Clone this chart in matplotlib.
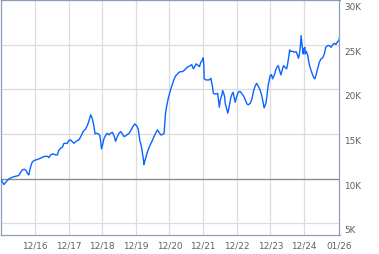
import matplotlib
matplotlib.use("Agg")
import matplotlib.pyplot as plt
import matplotlib.transforms as mtransforms
from matplotlib.ticker import FixedLocator, FuncFormatter

# Growth of 10K, decimal-year positions and values
years = [
    2015.98, 2016.08, 2016.18, 2016.23, 2016.33, 2016.43, 2016.52, 2016.58, 2016.63, 2016.69,
    2016.74, 2016.79, 2016.82, 2016.87, 2016.92, 2016.97, 2017.07, 2017.17, 2017.27, 2017.37,
    2017.42, 2017.47, 2017.54, 2017.62, 2017.67, 2017.71, 2017.77, 2017.82, 2017.86, 2017.91,
    2017.96, 2018.01, 2018.06, 2018.16, 2018.26, 2018.31, 2018.38, 2018.44, 2018.51, 2018.56,
    2018.61, 2018.66, 2018.71, 2018.76, 2018.79, 2018.84, 2018.89, 2018.93, 2018.96, 2018.98,
    2019.02, 2019.05, 2019.10, 2019.15, 2019.20, 2019.25, 2019.30, 2019.35, 2019.40, 2019.45,
    2019.50, 2019.55, 2019.60, 2019.65, 2019.70, 2019.75, 2019.80, 2019.85, 2019.90, 2019.97,
    2020.02, 2020.07, 2020.09, 2020.12, 2020.17, 2020.20, 2020.23, 2020.24, 2020.27, 2020.30,
    2020.34, 2020.39, 2020.44, 2020.49, 2020.54, 2020.59, 2020.64, 2020.69, 2020.74, 2020.79,
    2020.84, 2020.86, 2020.88, 2020.91, 2020.94, 2020.97, 2021.01, 2021.04, 2021.09, 2021.14,
    2021.19, 2021.24, 2021.28, 2021.34, 2021.39, 2021.43, 2021.48, 2021.53, 2021.58, 2021.63,
    2021.66, 2021.71, 2021.75, 2021.79, 2021.85, 2021.89, 2021.93, 2021.97, 2022.00, 2022.02,
    2022.03, 2022.08, 2022.18, 2022.23, 2022.25, 2022.28, 2022.30, 2022.33, 2022.41, 2022.43,
    2022.45, 2022.48, 2022.51, 2022.55, 2022.58, 2022.61, 2022.64, 2022.65, 2022.67, 2022.70,
    2022.73, 2022.76, 2022.79, 2022.82, 2022.86, 2022.89, 2022.92, 2022.95, 2022.99, 2023.04,
    2023.09, 2023.14, 2023.19, 2023.24, 2023.30, 2023.34, 2023.40, 2023.45, 2023.50, 2023.55,
    2023.59, 2023.64, 2023.69, 2023.74, 2023.78, 2023.81, 2023.86, 2023.89, 2023.93, 2023.96,
    2023.99, 2024.03, 2024.06, 2024.11, 2024.15, 2024.19, 2024.23, 2024.27, 2024.31, 2024.35,
    2024.39, 2024.43, 2024.48, 2024.51, 2024.54, 2024.57, 2024.61, 2024.66, 2024.71, 2024.76,
    2024.79, 2024.83, 2024.86, 2024.89, 2024.91, 2024.94, 2024.97, 2024.99, 2025.02, 2025.03,
    2025.06, 2025.11, 2025.13, 2025.16, 2025.20, 2025.24, 2025.28, 2025.32, 2025.36, 2025.40,
    2025.45, 2025.50, 2025.55, 2025.60, 2025.64, 2025.70, 2025.75, 2025.80, 2025.85, 2025.90,
    2025.94, 2025.98, 2026.03, 2026.06,
]
values = [
    10000, 9330, 9780, 9970, 10150, 10260, 10340, 10710, 10970, 11040,
    10900, 10530, 10410, 11260, 11820, 12010, 12130, 12270, 12460, 12500,
    12350, 12650, 12760, 12650, 12650, 13130, 13410, 13500, 13920, 13950,
    13920, 14250, 14330, 13950, 14250, 14330, 14810, 15290, 15560, 15930,
    16490, 17130, 16680, 15740, 15000, 15070, 15000, 14810, 14060, 13320,
    13880, 14440, 14810, 15070, 14890, 15070, 15180, 14810, 14170, 14700,
    15070, 15260, 15000, 14700, 14780, 14920, 15070, 15370, 15740, 16120,
    15930, 15560, 15000, 14250, 13500, 12760, 12010, 11570, 12010, 12380,
    12940, 13440, 13880, 14250, 14700, 15070, 15450, 15180, 14890, 14920,
    15070, 16120, 17240, 17980, 18540, 19100, 19660, 20040, 20600, 21160,
    21530, 21720, 21900, 21970, 21970, 22090, 22280, 22460, 22570, 22650,
    22760, 22280, 22530, 22840, 22650, 22530, 23010, 23200, 23510, 22650,
    21160, 21040, 21040, 21220, 20780, 20220, 19550, 19480, 19480, 19550,
    18920, 17980, 18810, 19290, 19850, 19550, 19100, 18540, 18170, 17800,
    17310, 17800, 18390, 19030, 19480, 19660, 19100, 18540, 19100, 19660,
    19770, 19550, 19290, 18920, 18360, 18250, 18430, 18920, 19850, 20410,
    20660, 20300, 19930, 19290, 18540, 17910, 18390, 19100, 20410, 20970,
    21530, 21640, 21160, 21530, 22090, 22460, 22650, 22090, 21600, 22160,
    22650, 22460, 22280, 22840, 23570, 24400, 24210, 24250, 24130, 24210,
    23950, 23460, 23950, 24880, 26000, 24880, 23950, 24510, 24690, 23950,
    24250, 23760, 23200, 22650, 22160, 21720, 21340, 21160, 21720, 22280,
    23010, 23390, 23510, 23950, 24690, 24880, 24880, 24690, 25000, 25140,
    25000, 25250, 25440, 25890,
]

x_tick_pos = [2017.0, 2018.0, 2019.0, 2020.0, 2021.0, 2022.0, 2023.0, 2024.0, 2025.0, 2026.05]
x_tick_labels = ["12/16", "12/17", "12/18", "12/19", "12/20", "12/21", "12/22", "12/23", "12/24", "01/26"]
y_ticks = [5000, 10000, 15000, 20000, 25000, 30000]
baseline = 10000

W, H = 379, 255
fig = plt.figure(figsize=(W / 100, H / 100), dpi=100)
ax = fig.add_axes([0.5 / W, (H - 235.5) / H, 339 / W, 235 / H])

border = "#8c9db6"
grid_c = "#dcdcdc"
text_c = "#606060"

ax.plot(years, values, color="#0a64ff", lw=1.0, antialiased=True, zorder=3)
ax.axhline(baseline, color="#8a8a8a", lw=0.9, zorder=2)

ax.set_xlim(2015.98, 2026.05)
ax.set_ylim(3740, 30040)

ax.xaxis.set_major_locator(FixedLocator(x_tick_pos))
ax.set_xticklabels(x_tick_labels)
ax.yaxis.set_major_locator(FixedLocator(y_ticks))
ax.yaxis.set_major_formatter(FuncFormatter(lambda v, p: f"{int(v/1000)}K"))
ax.yaxis.tick_right()

ax.grid(True, color=grid_c, lw=0.9, zorder=1)
ax.tick_params(axis="both", length=0, labelsize=6.4, labelcolor=text_c)
ax.tick_params(axis="x", pad=4)
ax.tick_params(axis="y", pad=3.5)

# y labels sit just below their grid line, as in the reference
offset = mtransforms.ScaledTranslation(0, -1.5 / 72, fig.dpi_scale_trans)
for lab in ax.get_yticklabels():
    lab.set_verticalalignment("top")
    lab.set_transform(lab.get_transform() + offset)

for s in ax.spines.values():
    s.set_color(border)
    s.set_linewidth(0.9)

fig.savefig("out.png", dpi=100, facecolor="white")
